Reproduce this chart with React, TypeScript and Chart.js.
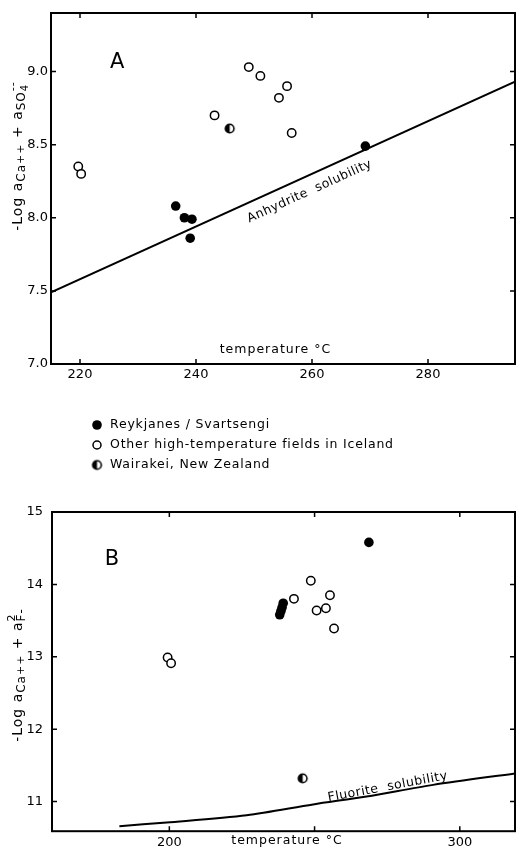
import React, { useEffect, useRef } from "react";
import { Chart, registerables } from "chart.js";
Chart.register(...registerables);

const FONT = "'DejaVu Sans', sans-serif";

// ---------- Panel A (anhydrite) ----------
const aXTicks = [220, 240, 260, 280];
const aYTicks = [7.0, 7.5, 8.0, 8.5, 9.0];
const aReykTemp = [236.5, 238.0, 239.3, 239.0, 269.2];
const aReykVal = [8.08, 8.0, 7.99, 7.86, 8.49];
const aOtherTemp = [219.7, 220.2, 243.2, 249.1, 251.1, 255.7, 254.3, 256.5];
const aOtherVal = [8.35, 8.3, 8.7, 9.03, 8.97, 8.9, 8.82, 8.58];
const aWairTemp = [245.8];
const aWairVal = [8.61];
const aSolTemp = [215, 295];
const aSolVal = [7.49, 8.93];

// ---------- Panel B (fluorite) ----------
const bXTicks = [200, 250, 300];
const bXLabels = ["200", "", "300"];
const bYTicks = [11, 12, 13, 14, 15];
const bReykTemp = [268.7, 238.0, 238.4, 238.8, 239.2];
const bReykVal = [14.58, 13.58, 13.63, 13.68, 13.74];
const bOtherTemp = [199.4, 200.6, 242.9, 248.7, 250.7, 253.9, 255.3, 256.7];
const bOtherVal = [12.99, 12.91, 13.8, 14.05, 13.64, 13.67, 13.85, 13.39];
const bWairTemp = [245.9];
const bWairVal = [11.32];
const bSolTemp = [182.8, 199.1, 226.6, 249.5, 267.9, 290.8, 319.3];
const bSolVal = [10.66, 10.71, 10.81, 10.96, 11.07, 11.23, 11.39];

const legendLabels = [
  "Reykjanes / Svartsengi",
  "Other high-temperature fields in Iceland",
  "Wairakei, New Zealand",
];

const zip = (xs: number[], ys: number[]) => xs.map((x, i) => ({ x, y: ys[i] }));

function halfMarker(r: number) {
  const c = document.createElement("canvas");
  const s = Math.ceil(2 * r + 4);
  c.width = s;
  c.height = s;
  const ctx = c.getContext("2d")!;
  const cx = s / 2;
  ctx.fillStyle = "#fff";
  ctx.beginPath();
  ctx.arc(cx, cx, r, 0, 2 * Math.PI);
  ctx.fill();
  ctx.fillStyle = "#000";
  ctx.beginPath();
  ctx.arc(cx, cx, r, Math.PI / 2, Math.PI * 1.5);
  ctx.closePath();
  ctx.fill();
  ctx.lineWidth = 1.6;
  ctx.strokeStyle = "#000";
  ctx.beginPath();
  ctx.arc(cx, cx, r, 0, 2 * Math.PI);
  ctx.stroke();
  return c;
}

type Seg = { t: string; size: number; dy: number; stack?: boolean };

function drawRich(ctx: CanvasRenderingContext2D, x: number, y: number, rot: number, segs: Seg[], spacing = 0) {
  ctx.save();
  ctx.translate(x, y);
  ctx.rotate(rot);
  ctx.fillStyle = "#000";
  ctx.textAlign = "left";
  ctx.textBaseline = "alphabetic";
  (ctx as any).letterSpacing = `${spacing}px`;
  let w = 0;
  let lastStart = 0;
  const starts: number[] = [];
  for (const s of segs) {
    ctx.font = `${s.size}px ${FONT}`;
    const mw = ctx.measureText(s.t).width;
    const start = s.stack ? lastStart : w;
    starts.push(start);
    w = Math.max(w, start + mw);
    lastStart = start;
  }
  segs.forEach((s, i) => {
    ctx.font = `${s.size}px ${FONT}`;
    ctx.fillText(s.t, starts[i] - w / 2, s.dy);
  });
  ctx.restore();
}

function drawText(ctx: CanvasRenderingContext2D, text: string, x: number, y: number, rot: number, size: number, spacing = 0) {
  ctx.save();
  ctx.translate(x, y);
  ctx.rotate(rot);
  ctx.font = `${size}px ${FONT}`;
  (ctx as any).letterSpacing = `${spacing}px`;
  ctx.fillStyle = "#000";
  ctx.textAlign = "center";
  ctx.textBaseline = "middle";
  ctx.fillText(text, 0, 0);
  ctx.restore();
}

function framePlugin(xTicks: number[], yTicks: number[]) {
  return {
    id: "frame",
    beforeDatasetsDraw(chart: any) {
      const { ctx, chartArea: a, scales } = chart;
      ctx.save();
      ctx.strokeStyle = "#000";
      ctx.lineWidth = 2;
      ctx.strokeRect(a.left, a.top, a.right - a.left, a.bottom - a.top);
      ctx.lineWidth = 1.5;
      const L = 5;
      ctx.beginPath();
      for (const v of xTicks) {
        const px = scales.x.getPixelForValue(v);
        ctx.moveTo(px, a.bottom);
        ctx.lineTo(px, a.bottom - L);
        ctx.moveTo(px, a.top);
        ctx.lineTo(px, a.top + L);
      }
      for (const v of yTicks) {
        const py = scales.y.getPixelForValue(v);
        ctx.moveTo(a.left, py);
        ctx.lineTo(a.left + L, py);
        ctx.moveTo(a.right, py);
        ctx.lineTo(a.right - L, py);
      }
      ctx.stroke();
      ctx.restore();
    },
  };
}

function pointSets(reykT: number[], reykV: number[], othT: number[], othV: number[], wT: number[], wV: number[], half: HTMLCanvasElement) {
  return [
    {
      label: legendLabels[0],
      data: zip(reykT, reykV),
      pointStyle: "circle",
      pointRadius: 4.8,
      backgroundColor: "#000",
      borderColor: "#000",
      borderWidth: 0,
    },
    {
      label: legendLabels[1],
      data: zip(othT, othV),
      pointStyle: "circle",
      pointRadius: 4.2,
      backgroundColor: "#fff",
      borderColor: "#000",
      borderWidth: 1.5,
    },
    {
      label: legendLabels[2],
      data: zip(wT, wV),
      pointStyle: half,
      pointRadius: 4.5,
      backgroundColor: "#000",
      borderColor: "#000",
    },
  ];
}

function axes(xMin: number, xMax: number, yMin: number, yMax: number, xTicks: number[], yTicks: number[], xLabel: (v: number, i: number) => string, yLabel: (v: number) => string, yWidth: number, xHeight: number, xPad: number, yPad: number) {
  return {
    x: {
      type: "linear",
      min: xMin,
      max: xMax,
      grid: { display: false, drawTicks: false },
      border: { display: false },
      ticks: { color: "#000", font: { family: FONT, size: 13 }, padding: xPad, maxRotation: 0, autoSkip: false, callback: (v: any, i: number) => xLabel(v, i) },
      afterBuildTicks: (s: any) => {
        s.ticks = xTicks.map((v) => ({ value: v }));
      },
      afterFit: (s: any) => {
        s.height = xHeight;
      },
    },
    y: {
      type: "linear",
      min: yMin,
      max: yMax,
      grid: { display: false, drawTicks: false },
      border: { display: false },
      ticks: { color: "#000", font: { family: FONT, size: 13 }, padding: yPad, autoSkip: false, callback: (v: any) => yLabel(v) },
      afterBuildTicks: (s: any) => {
        s.ticks = yTicks.map((v) => ({ value: v }));
      },
      afterFit: (s: any) => {
        s.width = yWidth;
      },
    },
  };
}

export default function App() {
  const refA = useRef<HTMLCanvasElement>(null);
  const refB = useRef<HTMLCanvasElement>(null);

  useEffect(() => {
    const half = halfMarker(4.3);

    const annotA = {
      id: "annotA",
      afterDraw(chart: any) {
        const { ctx, scales } = chart;
        const xs = scales.x;
        const ys = scales.y;
        drawText(ctx, "A", xs.getPixelForValue(226.4), ys.getPixelForValue(9.064), 0, 21);
        const x1 = xs.getPixelForValue(aSolTemp[0]);
        const y1 = ys.getPixelForValue(aSolVal[0]);
        const x2 = xs.getPixelForValue(aSolTemp[1]);
        const y2 = ys.getPixelForValue(aSolVal[1]);
        const ang = Math.atan2(y2 - y1, x2 - x1);
        drawText(ctx, "Anhydrite  solubility", xs.getPixelForValue(259.6), ys.getPixelForValue(8.18), ang, 12.5, 0.5);
        drawText(ctx, "temperature °C", xs.getPixelForValue(253.7), ys.getPixelForValue(7.1), 0, 12.5, 1);
        drawRich(
          ctx,
          22,
          156,
          -Math.PI / 2,
          [
            { t: "-Log a", size: 14, dy: 0 },
            { t: "Ca", size: 12, dy: 3 },
            { t: "++", size: 11, dy: 2 },
            { t: " + a", size: 14, dy: 0 },
            { t: "SO", size: 12, dy: 3 },
            { t: "4", size: 10, dy: 6 },
            { t: "--", size: 11, dy: -6, stack: true },
          ],
          1
        );
        // legend
        const lx = 97;
        const ly = [425, 445, 465];
        ctx.save();
        ctx.fillStyle = "#000";
        ctx.strokeStyle = "#000";
        ctx.beginPath();
        ctx.arc(lx, ly[0], 4.8, 0, 2 * Math.PI);
        ctx.fill();
        ctx.lineWidth = 1.5;
        ctx.beginPath();
        ctx.arc(lx, ly[1], 4, 0, 2 * Math.PI);
        ctx.stroke();
        ctx.drawImage(half, lx - half.width / 2, ly[2] - half.height / 2);
        ctx.font = `12.5px ${FONT}`;
        (ctx as any).letterSpacing = "0.8px";
        ctx.textAlign = "left";
        ctx.textBaseline = "middle";
        legendLabels.forEach((t, i) => ctx.fillText(t, 110, ly[i]));
        ctx.restore();
      },
    };

    const chartA = new Chart(refA.current!, {
      type: "scatter",
      data: {
        datasets: [
          {
            label: "Anhydrite solubility",
            data: zip(aSolTemp, aSolVal),
            showLine: true,
            borderColor: "#000",
            borderWidth: 2,
            pointRadius: 0,
            fill: false,
          } as any,
          ...pointSets(aReykTemp, aReykVal, aOtherTemp, aOtherVal, aWairTemp, aWairVal, half),
        ],
      },
      options: {
        animation: false,
        responsive: false,
        devicePixelRatio: 1,
        layout: { autoPadding: false, padding: { left: 0, right: 1, top: 13, bottom: 0 } },
        plugins: { legend: { display: false }, tooltip: { enabled: false }, title: { display: false } },
        scales: axes(215, 295, 7.0, 9.4, aXTicks, aYTicks, (v) => String(v), (v) => Number(v).toFixed(1), 51, 116, 3, 3) as any,
      },
      plugins: [framePlugin(aXTicks, aYTicks), annotA],
    });

    const annotB = {
      id: "annotB",
      afterDraw(chart: any) {
        const { ctx, scales } = chart;
        const xs = scales.x;
        const ys = scales.y;
        drawText(ctx, "B", xs.getPixelForValue(180.2), ys.getPixelForValue(14.34), 0, 21);
        drawText(ctx, "Fluorite  solubility", xs.getPixelForValue(275.2), ys.getPixelForValue(11.2), (-10.5 * Math.PI) / 180, 12.5, 0.5);
        drawText(ctx, "temperature °C", xs.getPixelForValue(240.5), chart.chartArea.bottom + 10, 0, 12.5, 1);
        drawRich(
          ctx,
          22,
          195,
          -Math.PI / 2,
          [
            { t: "-Log a", size: 14, dy: 0 },
            { t: "Ca", size: 12, dy: 3 },
            { t: "++", size: 11, dy: 2 },
            { t: " + a", size: 14, dy: 0 },
            { t: "2", size: 11, dy: -7 },
            { t: "F-", size: 12, dy: 3, stack: true },
          ],
          1
        );
      },
    };

    const chartB = new Chart(refB.current!, {
      type: "scatter",
      data: {
        datasets: [
          {
            label: "Fluorite solubility",
            data: zip(bSolTemp, bSolVal),
            showLine: true,
            borderColor: "#000",
            borderWidth: 2,
            pointRadius: 0,
            tension: 0.3,
            fill: false,
          } as any,
          ...pointSets(bReykTemp, bReykVal, bOtherTemp, bOtherVal, bWairTemp, bWairVal, half),
        ],
      },
      options: {
        animation: false,
        responsive: false,
        devicePixelRatio: 1,
        layout: { autoPadding: false, padding: { left: 0, right: 1, top: 32, bottom: 0 } },
        plugins: { legend: { display: false }, tooltip: { enabled: false }, title: { display: false } },
        scales: axes(159.6, 319, 10.59, 15, bXTicks, bYTicks, (_v, i) => bXLabels[i] ?? "", (v) => String(v), 52, 15, 4, 9) as any,
      },
      plugins: [framePlugin(bXTicks, bYTicks), annotB],
    });

    return () => {
      chartA.destroy();
      chartB.destroy();
    };
  }, []);

  return (
    <div style={{ position: "absolute", left: 0, top: 0, width: 516, height: 848, background: "#fff" }}>
      <canvas ref={refA} width={516} height={480} style={{ position: "absolute", left: 0, top: 0, width: 516, height: 480 }} />
      <canvas ref={refB} width={516} height={368} style={{ position: "absolute", left: 0, top: 480, width: 516, height: 368 }} />
    </div>
  );
}
